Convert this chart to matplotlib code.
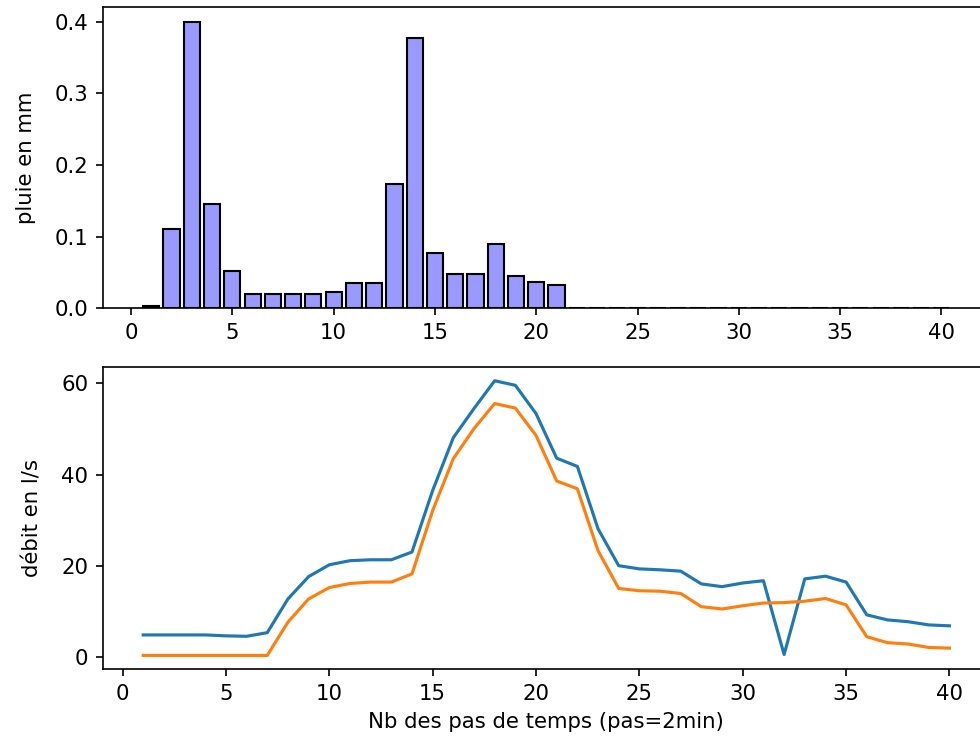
import matplotlib
matplotlib.use("Agg")
import matplotlib.pyplot as plt
from matplotlib.ticker import MultipleLocator

# pas de temps (1 pas = 2 min)
steps = list(range(1, 41))

pluie = [0.003, 0.110, 0.400, 0.145, 0.052, 0.020, 0.020, 0.020, 0.020, 0.023,
         0.035, 0.035, 0.173, 0.378, 0.077, 0.047, 0.047, 0.090, 0.045, 0.037,
         0.032, 0, 0, 0, 0, 0, 0, 0, 0, 0,
         0, 0, 0, 0, 0, 0, 0, 0, 0, 0]

debit_mesure = [4.8, 4.8, 4.8, 4.8, 4.6, 4.5, 5.3, 12.7, 17.6, 20.2,
                21.1, 21.3, 21.3, 23.0, 36.5, 48.1, 54.5, 60.6, 59.6, 53.4,
                43.6, 41.8, 28.1, 20.0, 19.3, 19.1, 18.8, 16.0, 15.4, 16.2,
                16.7, 0.5, 17.1, 17.7, 16.4, 9.2, 8.1, 7.7, 7.0, 6.8]

debit_simule = [0.3, 0.3, 0.3, 0.3, 0.3, 0.3, 0.3, 7.6, 12.7, 15.2,
                16.1, 16.4, 16.4, 18.2, 32.1, 43.5, 50.1, 55.6, 54.6, 48.6,
                38.6, 36.9, 23.3, 15.0, 14.5, 14.4, 13.9, 11.0, 10.5, 11.2,
                11.8, 11.9, 12.2, 12.8, 11.4, 4.4, 3.1, 2.8, 2.05, 1.9]

plt.rcParams["font.size"] = 10.2

fig = plt.figure(figsize=(980 / 150, 746 / 150), dpi=150)
ax1 = fig.add_axes([0.105, 0.587, 0.905, 0.403])
ax2 = fig.add_axes([0.105, 0.103, 0.905, 0.405])

ax1.bar(steps, pluie, color="#9999ff", edgecolor="black")
ax1.set_ylabel("pluie en mm", labelpad=9)

ax2.plot(steps, debit_mesure)
ax2.plot(steps, debit_simule)
ax2.yaxis.set_major_locator(MultipleLocator(20))
ax2.set_ylabel("débit en l/s", labelpad=9)
ax2.set_xlabel("Nb des pas de temps (pas=2min)")

fig.savefig("out.png", dpi=150)
